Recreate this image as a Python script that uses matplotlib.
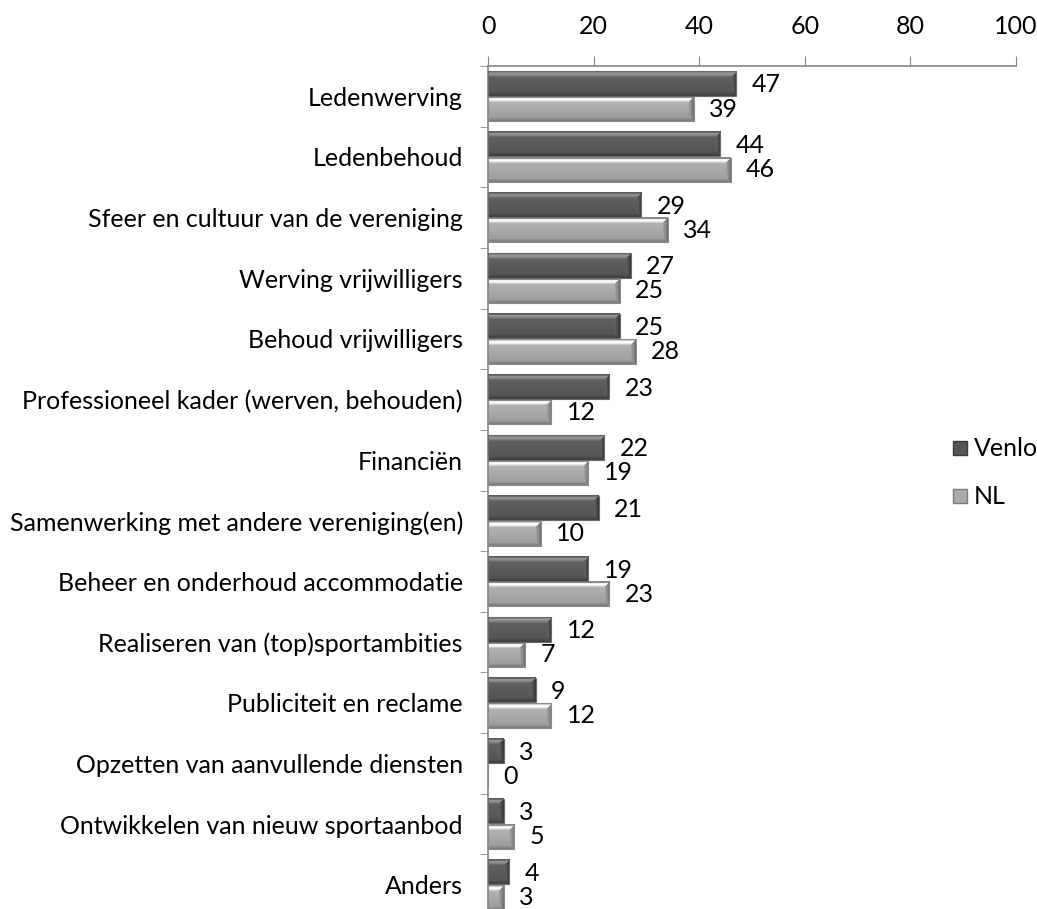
import numpy as np
import matplotlib
matplotlib.use("Agg")
import matplotlib.pyplot as plt
from matplotlib.lines import Line2D

plt.rcParams['font.family'] = ['Lato', 'DejaVu Sans']

categories = ["Ledenwerving", "Ledenbehoud", "Sfeer en cultuur van de vereniging",
              "Werving vrijwilligers", "Behoud vrijwilligers",
              "Professioneel kader (werven, behouden)", "Financiën",
              "Samenwerking met andere vereniging(en)", "Beheer en onderhoud accommodatie",
              "Realiseren van (top)sportambities", "Publiciteit en reclame",
              "Opzetten van aanvullende diensten", "Ontwikkelen van nieuw sportaanbod",
              "Anders"]
venlo = [47, 44, 29, 27, 25, 23, 22, 21, 19, 12, 9, 3, 3, 4]
nl = [39, 46, 34, 25, 28, 12, 19, 10, 23, 7, 12, 0, 5, 3]
xticks = [0, 20, 40, 60, 80, 100]

FS = 18
W, H = 1037, 909

fig = plt.figure(figsize=(W / 100, H / 100), dpi=100, facecolor='white')
ax = fig.add_axes([488 / W, 1 - 915 / H, (1016 - 488) / W, (915 - 66) / H])

n = len(categories)
pos = np.arange(n)[::-1]
bh = 0.40
off = 0.21


def shade(profile_top, body, profile_bottom, side, h_px=25):
    # per-row grey values for a bevelled bar
    rows = np.full(h_px, body[1], dtype=float)
    rows[:len(profile_top)] = profile_top
    rows[-len(profile_bottom):] = profile_bottom
    mid = slice(len(profile_top), h_px - len(profile_bottom))
    m = rows[mid]
    rows[mid] = np.linspace(body[0], body[1], len(m))
    return rows, side


venlo_style = shade([0.36, 0.52, 0.58, 0.56, 0.50, 0.43], (0.38, 0.33),
                    [0.29, 0.27, 0.25], 0.22)
nl_style = shade([0.55, 0.82, 0.97, 0.99, 0.92, 0.80], (0.70, 0.62),
                 [0.57, 0.53, 0.50], 0.46)


def draw_bars(values, centers, style, edge):
    rows, side = style
    bars = ax.barh(centers, values, height=bh, facecolor='none',
                   edgecolor=edge, linewidth=0.8, zorder=3)
    ppu = (1016 - 488) / 100.0
    for b, v in zip(bars, values):
        if v <= 0:
            continue
        w_px = max(int(round(v * ppu)), 2)
        h_px = len(rows)
        img = np.repeat(rows[:, None], w_px, axis=1)
        bev = 5
        for r in range(h_px):
            d_edge = min(r, h_px - 1 - r)
            for c in range(max(w_px - bev, 0), w_px):
                d_right = w_px - 1 - c
                if d_right < d_edge or d_right < 1:
                    img[r, c] = side + 0.04 * (d_right)
        y0 = b.get_y()
        ax.imshow(img, cmap='gray', vmin=0, vmax=1, aspect='auto',
                  origin='upper', interpolation='bilinear',
                  extent=(0, v, y0, y0 + b.get_height()), zorder=2)


draw_bars(venlo, pos + off, venlo_style, '#6a6a6a')
draw_bars(nl, pos - off, nl_style, '#8a8a8a')

for p, v in zip(pos + off, venlo):
    ax.annotate(str(v), (v, p), xytext=(11, -1), textcoords='offset points',
                ha='left', va='center', fontsize=FS)
for p, v in zip(pos - off, nl):
    ax.annotate(str(v), (v, p), xytext=(11, 0), textcoords='offset points',
                ha='left', va='center', fontsize=FS)

ax.set_xlim(0, 100)
ax.set_ylim(-0.5, n - 0.5)

ax.xaxis.tick_top()
ax.set_xticks(xticks)
ax.set_xticklabels([str(t) for t in xticks], fontsize=FS)
ax.tick_params(axis='x', direction='out', length=7, color='#868686', pad=13)

ax.set_yticks(pos)
ax.set_yticklabels(categories, fontsize=FS)
ax.set_yticks(np.arange(n + 1) - 0.5, minor=True)
ax.tick_params(axis='y', which='major', length=0, pad=18)
ax.tick_params(axis='y', which='minor', direction='out', length=6, color='#868686')

for s in ['right', 'bottom']:
    ax.spines[s].set_visible(False)
for s in ['top', 'left']:
    ax.spines[s].set_color('#868686')
    ax.spines[s].set_linewidth(1.2)

handles = [Line2D([], [], linestyle='none', marker='s', markersize=10,
                  markerfacecolor='#555555', markeredgecolor='#3a3a3a'),
           Line2D([], [], linestyle='none', marker='s', markersize=10,
                  markerfacecolor='#aaaaaa', markeredgecolor='#7a7a7a')]
fig.legend(handles, ['Venlo', 'NL'], loc='center left',
           bbox_to_anchor=(951 / W, 1 - 473 / H), frameon=False,
           fontsize=FS, handlelength=0.7, handletextpad=0.2,
           labelspacing=1.0, borderpad=0, borderaxespad=0)

fig.savefig('out.png', dpi=100, facecolor='white')
